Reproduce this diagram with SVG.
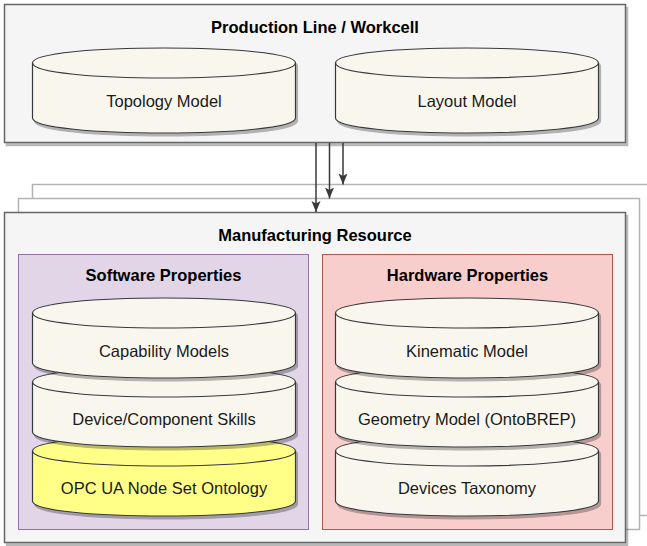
<svg xmlns="http://www.w3.org/2000/svg" width="647" height="546" viewBox="0 0 647 546">
<style>
  text { font-family: "Liberation Sans", Arial, sans-serif; font-size: 16.5px; text-anchor: middle; fill: #1a1a1a; }
  .title { font-weight: bold; fill: #000; }
  .frame { fill: #f5f5f5; stroke: #666666; stroke-width: 1.5; }
  .back { fill: #ffffff; stroke: #b3b3b3; stroke-width: 1.5; }
  .soft { fill: #e1d5e7; stroke: #9673a6; stroke-width: 1; }
  .hard { fill: #f8cecc; stroke: #b85450; stroke-width: 1; }
  .body { fill: #f9f7ed; stroke: #36393d; stroke-width: 1.2; }
  .yellow .body { fill: #ffff88; }
  .rim { fill: none; stroke: #36393d; stroke-width: 1.2; }
  .conn { stroke: #36393d; stroke-width: 1.5; fill: none; marker-end: url(#arrow); }
</style>
<defs>
  <filter id="sh" x="-5%" y="-5%" width="115%" height="120%">
    <feDropShadow dx="2" dy="3" stdDeviation="0.6" flood-color="#000" flood-opacity="0.28"/>
  </filter>
  <marker id="arrow" markerUnits="userSpaceOnUse" markerWidth="12" markerHeight="10" refX="11" refY="4.5" orient="auto">
    <path d="M0,0 L11,4.5 L0,9 L2.5,4.5 Z" fill="#36393d"/>
  </marker>
  <path id="rim" class="rim" d="M0,15 C0,35 263,35 263,15"/>
  <path id="body80" d="M0,15 C0,-5 263,-5 263,15 L263,65 C263,85 0,85 0,65 Z"/>
  <path id="body85" d="M0,15 C0,-5 263,-5 263,15 L263,70 C263,90 0,90 0,70 Z"/>
</defs>

<g id="production-line">
  <rect class="frame" x="4.5" y="4.5" width="621" height="138" filter="url(#sh)"/>
  <text class="title" x="315" y="33">Production Line / Workcell</text>
</g>
<g id="topology-model" transform="translate(32.5,48)">
  <use href="#body85" class="body" filter="url(#sh)"/>
  <use href="#rim"/>
  <text x="131.5" y="59">Topology Model</text>
</g>
<g id="layout-model" transform="translate(335.5,48)">
  <use href="#body85" class="body" filter="url(#sh)"/>
  <use href="#rim"/>
  <text x="131.5" y="59">Layout Model</text>
</g>

<g id="resource-stack-back">
  <rect class="back" x="32.5" y="184.5" width="621" height="331"/>
  <rect class="back" x="18.5" y="198.5" width="621" height="331"/>
</g>
<g id="manufacturing-resource">
  <rect class="frame" x="4.5" y="212.5" width="621" height="330" filter="url(#sh)"/>
  <text class="title" x="315" y="241">Manufacturing Resource</text>
</g>
<g id="software-properties">
  <rect class="soft" x="18.5" y="254.5" width="290" height="275"/>
  <text class="title" x="163.5" y="281">Software Properties</text>
</g>
<g id="hardware-properties">
  <rect class="hard" x="322.5" y="254.5" width="290" height="275"/>
  <text class="title" x="467.5" y="281">Hardware Properties</text>
</g>

<g id="opc-ua-node-set-ontology" class="yellow" transform="translate(32.5,436)">
  <use href="#body80" class="body" filter="url(#sh)"/>
  <use href="#rim"/>
  <text x="131.5" y="58">OPC UA Node Set Ontology</text>
</g>
<g id="device-component-skills" transform="translate(32.5,367)">
  <use href="#body80" class="body" filter="url(#sh)"/>
  <use href="#rim"/>
  <text x="131.5" y="58">Device/Component Skills</text>
</g>
<g id="capability-models" transform="translate(32.5,298)">
  <use href="#body80" class="body" filter="url(#sh)"/>
  <use href="#rim"/>
  <text x="131.5" y="59">Capability Models</text>
</g>

<g id="devices-taxonomy" transform="translate(335.5,436)">
  <use href="#body80" class="body" filter="url(#sh)"/>
  <use href="#rim"/>
  <text x="131.5" y="58">Devices Taxonomy</text>
</g>
<g id="geometry-model" transform="translate(335.5,367)">
  <use href="#body80" class="body" filter="url(#sh)"/>
  <use href="#rim"/>
  <text x="131.5" y="58">Geometry Model (OntoBREP)</text>
</g>
<g id="kinematic-model" transform="translate(335.5,298)">
  <use href="#body80" class="body" filter="url(#sh)"/>
  <use href="#rim"/>
  <text x="131.5" y="59">Kinematic Model</text>
</g>

<g id="connectors">
  <path class="conn" d="M316,143 L316,212"/>
  <path class="conn" d="M329.5,143 L329.5,198.5"/>
  <path class="conn" d="M343,143 L343,184.5"/>
</g>
</svg>
